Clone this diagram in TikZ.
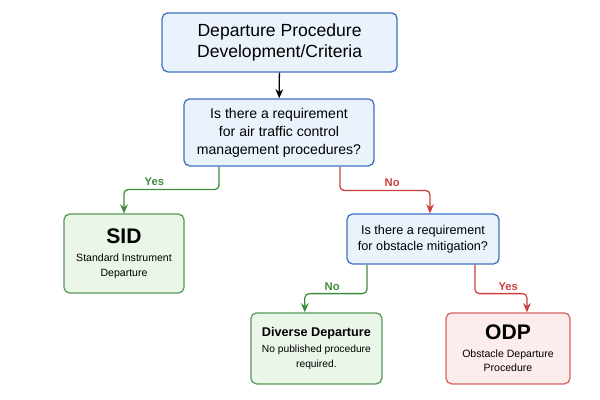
\documentclass[tikz,border=0pt]{standalone}
\usepackage{fontspec}
\setmainfont{Liberation Sans}
\usetikzlibrary{arrows.meta,calc}
\definecolor{qline}{RGB}{62,112,190}
\definecolor{qfill}{RGB}{234,243,252}
\definecolor{okline}{RGB}{88,152,88}
\definecolor{okfill}{RGB}{234,246,232}
\definecolor{odpline}{RGB}{214,100,100}
\definecolor{odpfill}{RGB}{252,236,236}
\definecolor{yesarr}{RGB}{62,140,62}
\definecolor{noarr}{RGB}{205,62,62}

\begin{document}
\begin{tikzpicture}[
  >={Stealth[length=6.5pt,width=5.5pt]},
  box/.style={draw, rounded corners=4pt, line width=0.9pt, align=center,
              inner sep=3pt},
  qbox/.style={box, draw=qline, fill=qfill},
  okbox/.style={box, draw=okline, fill=okfill},
  odpbox/.style={box, draw=odpline, fill=odpfill},
  e/.style={->, draw, line width=0.9pt, rounded corners=3pt},
  egreen/.style={e, draw=yesarr},
  ered/.style={e, draw=noarr},
  lbl/.style={font=\fontsize{8}{9}\selectfont\bfseries, inner sep=2pt}
]
\useasboundingbox (0,0) rectangle (15,-10);

% row 1
\node[qbox, minimum width=5.875cm, minimum height=1.475cm,
      font=\fontsize{12.5}{15}\selectfont] (top) at (6.99,-1.06)
  {Departure Procedure\\ Development/Criteria};
\node[qbox, minimum width=4.75cm, minimum height=1.675cm,
      font=\fontsize{10}{12.8}\selectfont] (q1) at (6.975,-3.31)
  {Is there a requirement\\ for air traffic control\\ management procedures?};
% row 2
\node[okbox, minimum width=3.0cm, minimum height=1.975cm,
      font=\fontsize{7.5}{10.5}\selectfont] (sid) at (3.1,-6.34)
  {{\fontsize{15}{17}\selectfont\bfseries SID}\\[2pt] Standard Instrument\\ Departure};
\node[qbox, minimum width=3.8cm, minimum height=1.25cm,
      font=\fontsize{9}{11.3}\selectfont] (q2) at (10.575,-5.975)
  {Is there a requirement\\ for obstacle mitigation?};
% row 3
\node[okbox, minimum width=3.275cm, minimum height=1.775cm,
      font=\fontsize{7.3}{10.5}\selectfont] (div) at (7.91,-8.71)
  {{\fontsize{9}{12}\selectfont\bfseries Diverse Departure}\\[1pt] No published procedure\\ required.};
\node[odpbox, minimum width=3.1cm, minimum height=1.775cm,
      font=\fontsize{7.5}{10.5}\selectfont] (odp) at (12.7,-8.71)
  {{\fontsize{15}{17}\selectfont\bfseries ODP}\\[2pt] Obstacle Departure\\ Procedure};

% arrows
\draw[e] (top) -- (q1);
\draw[egreen] ($(q1.south)+(-1.5,0)$) -- ++(0,-0.575)
  -| node[lbl, above, pos=0.34, text=yesarr] (y1) {Yes} (sid.north);
\draw[ered] ($(q1.south)+(1.525,0)$) -- ++(0,-0.6)
  -| node[lbl, above, pos=0.29, text=noarr] (n1) {No} ($(q2.north)+(0.175,0)$);
\draw[egreen] ($(q2.south)+(-1.4,0)$) -- ++(0,-0.725)
  -| node[lbl, above, pos=0.28, text=yesarr] (n2) {No} ($(div.north)+(-0.29,0)$);
\draw[ered] ($(q2.south)+(1.3,0)$) -- ++(0,-0.725)
  -| node[lbl, above, pos=0.32, text=noarr] (y2) {Yes} ($(odp.north)+(0.475,0)$);
\end{tikzpicture}
\end{document}
